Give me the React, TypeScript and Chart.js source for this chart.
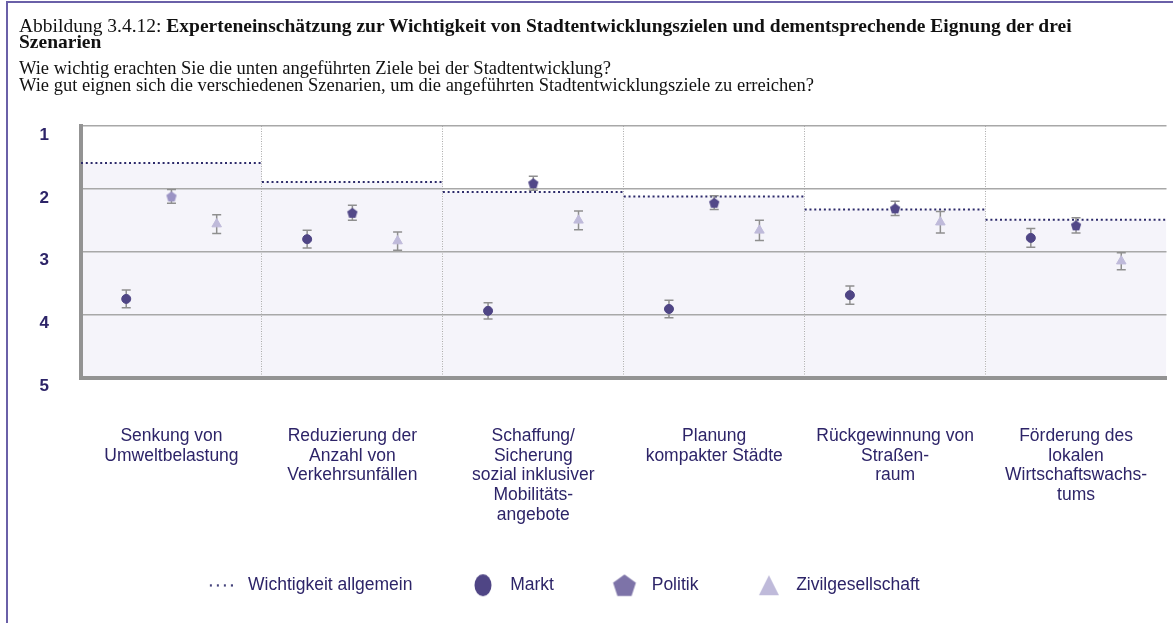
import React, { useEffect, useRef } from 'react';
import { Chart, registerables } from 'chart.js';

Chart.register(...registerables);

// ---------- data ----------
const categories: string[][] = [
  ['Senkung von', 'Umweltbelastung'],
  ['Reduzierung der', 'Anzahl von', 'Verkehrsunfällen'],
  ['Schaffung/', 'Sicherung', 'sozial inklusiver', 'Mobilitäts-', 'angebote'],
  ['Planung', 'kompakter Städte'],
  ['Rückgewinnung von', 'Straßen-', 'raum'],
  ['Förderung des', 'lokalen', 'Wirtschaftswachs-', 'tums'],
];
const yTickLabels = ['1', '2', '3', '4', '5'];
const legendLabels = ['Wichtigkeit allgemein', 'Markt', 'Politik', 'Zivilgesellschaft'];

const wichtigkeit = [1.59, 1.89, 2.05, 2.12, 2.33, 2.49];
const markt = [3.75, 2.8, 3.94, 3.91, 3.69, 2.78];
const marktErr = [0.14, 0.14, 0.13, 0.14, 0.145, 0.15];
const politik = [2.12, 2.38, 1.91, 2.22, 2.31, 2.58];
const politikErr = [0.11, 0.12, 0.11, 0.11, 0.115, 0.12];
const zivil = [2.56, 2.83, 2.5, 2.66, 2.53, 3.15];
const zivilErr = [0.15, 0.145, 0.15, 0.16, 0.17, 0.135];

// ---------- styles ----------
const NAVY = '#2d2468';
const SANS = "'Liberation Sans', Arial, Helvetica, sans-serif";
const SERIF = "'Liberation Serif', 'Times New Roman', serif";
const C_MARKT = '#4f4585';
const C_POL = '#524888';
const C_POL_LIGHT = '#9b93c4';
const C_POL_LEG = '#7d73a8';
const C_ZIV = '#bfbada';
const C_ERR = '#8f8f8f';
const C_DOT = '#2c2a6a';
const C_FILL = '#f5f4fa';

const CANVAS_LEFT = -46;
const CW = 1219;
const CH = 604;

function makeCanvas(w: number, h: number, draw: (ctx: CanvasRenderingContext2D) => void) {
  const c = document.createElement('canvas');
  c.width = w;
  c.height = h;
  const ctx = c.getContext('2d')!;
  draw(ctx);
  return c;
}

function pentagonImg(size: number, r: number, color: string) {
  return makeCanvas(size, size, (ctx) => {
    ctx.fillStyle = color;
    ctx.beginPath();
    const cx = size / 2;
    const cy = size / 2 + r * 0.0955;
    for (let k = 0; k < 5; k++) {
      const a = -Math.PI / 2 + (k * 2 * Math.PI) / 5;
      const x = cx + r * Math.cos(a);
      const y = cy + r * Math.sin(a);
      if (k === 0) ctx.moveTo(x, y);
      else ctx.lineTo(x, y);
    }
    ctx.closePath();
    ctx.fill();
  });
}

function pointsFor(values: number[], off: number) {
  return values.map((v, i) => ({ x: i + off, y: v }));
}

function errFor(values: number[], errs: number[], off: number) {
  const out: { x: number; y: number | null }[] = [];
  values.forEach((v, i) => {
    out.push({ x: i + off, y: v - errs[i] });
    out.push({ x: i + off, y: v + errs[i] });
    out.push({ x: i + off, y: null });
  });
  return out;
}

function stepFor(values: number[]) {
  const out: { x: number; y: number | null }[] = [];
  values.forEach((v, i) => {
    out.push({ x: i, y: v });
    out.push({ x: i + 1, y: v });
    out.push({ x: i + 1, y: null });
  });
  return out;
}

export default function App() {
  const ref = useRef<HTMLCanvasElement | null>(null);

  useEffect(() => {
    if (!ref.current) return;
    const pentDark = pentagonImg(12, 5.4, C_POL);
    const pentLight = pentagonImg(12, 5.4, C_POL_LIGHT);

    const legDots = makeCanvas(24, 3, (ctx) => {
      ctx.fillStyle = C_DOT;
      for (let k = 0; k < 4; k++) ctx.fillRect(1 + k * 7, 0.5, 2, 2);
    });
    const legCircle = makeCanvas(20, 24, (ctx) => {
      ctx.fillStyle = C_MARKT;
      ctx.beginPath();
      ctx.ellipse(10, 12, 8.5, 11, 0, 0, Math.PI * 2);
      ctx.fill();
    });
    const legPent = pentagonImg(26, 12, C_POL_LEG);
    const legTri = makeCanvas(22, 22, (ctx) => {
      ctx.fillStyle = C_ZIV;
      ctx.beginPath();
      ctx.moveTo(11, 1);
      ctx.lineTo(21, 21);
      ctx.lineTo(1, 21);
      ctx.closePath();
      ctx.fill();
    });
    const legImgs = [legDots, legCircle, legPent, legTri];

    const chart = new Chart(ref.current, {
      type: 'line',
      data: {
        datasets: [
          {
            label: legendLabels[1],
            data: pointsFor(markt, 0.25),
            showLine: false,
            pointStyle: 'circle',
            pointRadius: 4.5,
            pointBackgroundColor: C_MARKT,
            pointBorderColor: C_MARKT,
            pointBorderWidth: 1,
            order: 0,
          },
          {
            label: legendLabels[2],
            data: pointsFor(politik, 0.5),
            showLine: false,
            pointStyle: politik.map((_, i) => (i === 0 ? pentLight : pentDark)),
            pointRadius: 5,
            order: 0,
          },
          {
            label: legendLabels[3],
            data: pointsFor(zivil, 0.75),
            showLine: false,
            pointStyle: 'triangle',
            pointRadius: 5.5,
            pointBackgroundColor: C_ZIV,
            pointBorderColor: C_ZIV,
            pointBorderWidth: 1,
            order: 0,
          },
          ...[
            [markt, marktErr, 0.25],
            [politik, politikErr, 0.5],
            [zivil, zivilErr, 0.75],
          ].map(([v, e, o]) => ({
            label: 'err',
            data: errFor(v as number[], e as number[], o as number),
            showLine: true,
            spanGaps: false,
            borderColor: C_ERR,
            borderWidth: 1.5,
            pointStyle: 'line',
            pointRadius: 4.5,
            pointBorderColor: C_ERR,
            pointBorderWidth: 1.5,
            order: 1,
          })),
          {
            label: legendLabels[0],
            data: stepFor(wichtigkeit),
            showLine: true,
            spanGaps: false,
            borderColor: C_DOT,
            borderWidth: 2,
            borderDash: [2, 2.8],
            borderCapStyle: 'butt',
            pointRadius: 0,
            fill: { value: 5 },
            backgroundColor: C_FILL,
            order: 2,
          },
        ] as any,
      },
      options: {
        responsive: false,
        animation: false,
        events: [],
        layout: { padding: { top: 126, right: 5, bottom: 0, left: 0 } },
        scales: {
          x: {
            type: 'linear',
            min: 0,
            max: 6,
            weight: 0,
            ticks: { display: false, stepSize: 1 },
            grid: {
              color: (c: any) =>
                c.tick && (c.tick.value === 0 || c.tick.value === 6) ? 'rgba(0,0,0,0)' : '#ababab',
              lineWidth: 1,
              drawTicks: true,
              tickLength: 49,
              tickColor: 'rgba(0,0,0,0)',
            },
            border: { width: 4, color: '#939393', dash: [1, 1.5] },
          },
          xc: {
            type: 'category',
            labels: categories as any,
            position: 'bottom',
            offset: true,
            weight: 1,
            grid: { display: false, drawTicks: false },
            border: { display: false },
            ticks: {
              padding: 0,
              autoSkip: false,
              maxRotation: 0,
              color: NAVY,
              font: { family: SANS, size: 17.5, lineHeight: 1.12 },
            },
          },
          y: {
            type: 'linear',
            min: 1,
            max: 5,
            reverse: true,
            afterFit: (s: any) => {
              s.width = 127;
            },
            ticks: {
              stepSize: 1,
              padding: 32,
              labelOffset: 9,
              color: NAVY,
              font: { family: SANS, size: 17, weight: 'bold' },
              callback: (v: any) => yTickLabels[Math.round(Number(v)) - 1],
            },
            grid: {
              color: (c: any) => (c.tick && c.tick.value === 5 ? 'rgba(0,0,0,0)' : '#a8a8a8'),
              lineWidth: 1.5,
              drawTicks: false,
            },
            border: { width: 4, color: '#939393' },
          },
        } as any,
        plugins: {
          filler: { drawTime: 'beforeDraw' } as any,
          tooltip: { enabled: false },
          legend: {
            display: true,
            position: 'bottom',
            onClick: () => {},
            labels: {
              usePointStyle: true,
              pointStyleWidth: 37,
              padding: 52,
              color: NAVY,
              font: { family: SANS, size: 17.5 },
              generateLabels: () =>
                legendLabels.map((t, i) => ({
                  text: t,
                  pointStyle: legImgs[i] as any,
                  fillStyle: 'rgba(0,0,0,0)',
                  strokeStyle: 'rgba(0,0,0,0)',
                  lineWidth: 0,
                  hidden: false,
                  fontColor: NAVY,
                  datasetIndex: i,
                })),
            },
          },
        },
      },
    });
    return () => chart.destroy();
  }, []);

  return (
    <div
      style={{
        position: 'fixed',
        left: 0,
        top: 0,
        width: 1173,
        height: 623,
        overflow: 'hidden',
        background: '#ffffff',
      }}
    >
      <div
        style={{
          position: 'absolute',
          left: 6,
          top: 1,
          width: 1400,
          height: 800,
          borderLeft: '2px solid #6a60a8',
          borderTop: '2px solid #6a60a8',
        }}
      />
      <div
        style={{
          position: 'absolute',
          left: CANVAS_LEFT,
          top: 0,
          width: CW,
          height: CH,
        }}
      >
        <canvas ref={ref} width={CW} height={CH} style={{ width: CW, height: CH, display: 'block' }} />
      </div>
      <div
        style={{
          position: 'absolute',
          left: 19,
          top: 18,
          fontFamily: SERIF,
          fontSize: 19.5,
          lineHeight: '16px',
          color: '#111',
          whiteSpace: 'nowrap',
        }}
      >
        <div>
          Abbildung 3.4.12:{' '}
          <b>
            Experteneinschätzung zur Wichtigkeit von Stadtentwicklungszielen und dementsprechende Eignung der drei
          </b>
        </div>
        <div>
          <b>Szenarien</b>
        </div>
      </div>
      <div
        style={{
          position: 'absolute',
          left: 19,
          top: 59.5,
          fontFamily: SERIF,
          fontSize: 18.5,
          lineHeight: '17px',
          color: '#111',
          whiteSpace: 'nowrap',
        }}
      >
        <div>Wie wichtig erachten Sie die unten angeführten Ziele bei der Stadtentwicklung?</div>
        <div>Wie gut eignen sich die verschiedenen Szenarien, um die angeführten Stadtentwicklungsziele zu erreichen?</div>
      </div>
    </div>
  );
}
